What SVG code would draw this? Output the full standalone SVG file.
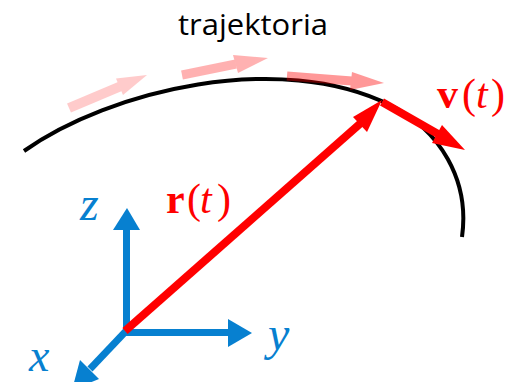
<svg xmlns="http://www.w3.org/2000/svg" width="514" height="382" viewBox="0 0 514 382">
<style>
.blue{fill:#0780D0}
.bl{stroke:#0780D0;stroke-width:7;fill:none}
.red{fill:#FF0000}
.rl{stroke:#FF0000;stroke-width:8;fill:none}
</style>
<rect width="514" height="382" fill="#fff"/>
<g id="title"><text font-family="Open Sans" x="178" y="35" font-size="29" textLength="150" lengthAdjust="spacingAndGlyphs" fill="#000">trajektoria</text></g>
<g id="trajectory"><path d="M24,151 C110,90 280,50 390,105 C440,130 470,180 462,237" stroke="#000" stroke-width="4" fill="none"/></g>
<g id="connectors">
<g id="ghost1" opacity="0.2"><line x1="69" y1="108" x2="120" y2="86.5" stroke="#FF0000" stroke-width="10"/><polygon points="147,75 116,78.4 123,95" fill="#FF0000"/></g>
<g id="ghost2" opacity="0.3"><line x1="182" y1="75" x2="236" y2="64" stroke="#FF0000" stroke-width="9"/><polygon points="268,58 233,55 238,73" fill="#FF0000"/></g>
<g id="ghost3" opacity="0.4"><line x1="287" y1="76" x2="352" y2="81" stroke="#FF0000" stroke-width="9"/><polygon points="384,83 352,72 350,90" fill="#FF0000"/></g>
<g id="axis-z"><line class="bl" x1="126.5" y1="333" x2="126.5" y2="228"/><polygon class="blue" points="113,230 140,230 127,208"/></g>
<g id="axis-y"><line class="bl" x1="123" y1="332.5" x2="230" y2="332.5"/><polygon class="blue" points="228,319 228,347 252,333"/></g>
<g id="axis-x"><line class="bl" x1="127" y1="330" x2="90" y2="369"/><polygon class="blue" points="80,360 99,379 72,390"/></g>
<g id="r-vector"><line class="rl" x1="125" y1="331" x2="362" y2="122"/><polygon class="red" points="382,100 353,117 367,132"/></g>
<g id="v-vector"><line class="rl" x1="382" y1="102" x2="438" y2="134" stroke-width="9"/><polygon class="red" points="465,150 442,125 432,143"/></g>
</g>
<g id="labels">
<text font-family="Liberation Serif" font-size="42" fill="#FF0000" y="213"><tspan x="166" font-weight="bold">r</tspan><tspan x="187">(</tspan><tspan x="200" font-style="italic">t</tspan><tspan x="217">)</tspan></text>
<text font-family="Liberation Serif" font-size="42" fill="#FF0000" y="108"><tspan x="437" font-weight="bold">v</tspan><tspan x="462">(</tspan><tspan x="476" font-style="italic">t</tspan><tspan x="491">)</tspan></text>
<text font-family="Liberation Serif" font-style="italic" font-size="48" fill="#0780D0" x="80" y="220">z</text>
<text font-family="Liberation Serif" font-style="italic" font-size="48" fill="#0780D0" x="268" y="350">y</text>
<text font-family="Liberation Serif" font-style="italic" font-size="46" fill="#0780D0" x="29" y="371">x</text>
</g>
</svg>
